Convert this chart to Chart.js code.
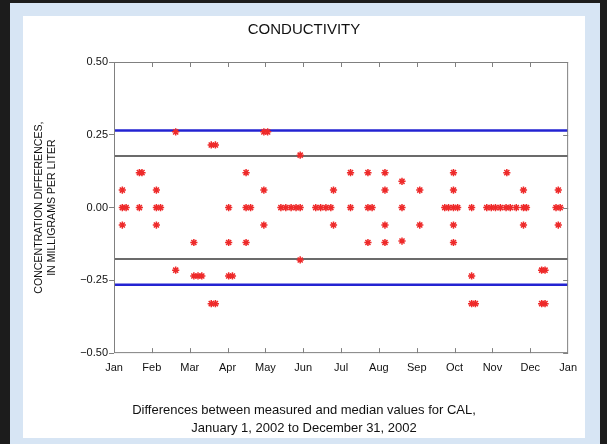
<!DOCTYPE html>
<html>
<head>
<meta charset="utf-8">
<script src="https://cdn.jsdelivr.net/npm/chart.js@4/dist/chart.umd.min.js"></script>
<style>
  html, body { margin: 0; padding: 0; }
  body {
    width: 607px; height: 444px; overflow: hidden;
    background: #d7e5f4;
    position: relative;
  }
  .frame-left  { position: absolute; left: 0; top: 0; width: 10px; height: 444px; background: #1c1c1c; }
  .frame-top   { position: absolute; left: 0; top: 0; width: 607px; height: 3px; background: #1c1c1c; }
  .frame-right { position: absolute; right: 0; top: 0; width: 7px; height: 444px; background: #1c1c1c; }
  .panel {
    position: absolute; left: 23px; top: 16px; width: 562px; height: 422px;
    background: #ffffff;
  }
</style>
</head>
<body>
<div class="frame-left"></div>
<div class="frame-top"></div>
<div class="frame-right"></div>
<div class="panel"><canvas id="condChart" width="562" height="422"></canvas></div>
<script>
// sample positions in months from Jan 1 (0 = Jan, 12 = next Jan)
const sampleMonth = [
  0.22, 0.22, 0.22, 0.32, 0.67, 0.67, 0.74,
  1.12, 1.12, 1.12, 1.23, 1.63, 1.63,
  2.11, 2.11, 2.22, 2.32, 2.57, 2.57, 2.68, 2.68,
  3.03, 3.03, 3.03, 3.13, 3.49, 3.49, 3.49, 3.61, 3.96, 3.96, 3.96,
  4.06, 4.41, 4.54, 4.68, 4.81, 4.92, 4.92, 4.92,
  5.33, 5.46, 5.60, 5.73, 5.80, 5.80,
  6.25, 6.25, 6.71, 6.71, 6.71, 6.82,
  7.16, 7.16, 7.16, 7.16, 7.61, 7.61, 7.61,
  8.08, 8.08, 8.74, 8.84, 8.97, 8.97, 8.97, 8.97, 8.97, 9.08,
  9.45, 9.45, 9.45, 9.55,
  9.85, 9.97, 10.08, 10.21, 10.36, 10.38, 10.47, 10.63,
  10.82, 10.82, 10.82, 10.90,
  11.30, 11.30, 11.39, 11.39, 11.68, 11.74, 11.74, 11.79
];
// measured minus median, mg/L
const sampleDiff = [
  0.06, 0, -0.06, 0, 0.12, 0, 0.12,
  0.06, 0, -0.06, 0, 0.26, -0.215,
  -0.12, -0.235, -0.235, -0.235, 0.215, -0.33, 0.215, -0.33,
  0, -0.12, -0.235, -0.235, 0.12, 0, -0.12, 0, 0.26, 0.06, -0.06,
  0.26, 0, 0, 0, 0, 0.18, 0, -0.18,
  0, 0, 0, 0, 0.06, -0.06,
  0.12, 0, 0.12, 0, -0.12, 0,
  0.12, 0.06, -0.06, -0.12, 0.09, 0, -0.115,
  0.06, -0.06, 0, 0, 0.12, 0.06, 0, -0.06, -0.12, 0,
  0, -0.235, -0.33, -0.33,
  0, 0, 0, 0, 0, 0.12, 0, 0,
  0.06, 0, -0.06, 0,
  -0.215, -0.33, -0.215, -0.33, 0, 0.06, -0.06, 0
];

const monthLabels = ["Jan", "Feb", "Mar", "Apr", "May", "Jun", "Jul",
                     "Aug", "Sep", "Oct", "Nov", "Dec", "Jan"];
const yTickValues = [-0.5, -0.25, 0, 0.25, 0.5];

// control limits
const outerLimit = 0.265;
const innerLimit = 0.177;

const points = sampleMonth.map((m, i) => ({ x: m, y: sampleDiff[i] }));

function limitLine(v, color, width) {
  return {
    type: "line",
    data: [{ x: 0, y: v }, { x: 12, y: v }],
    borderColor: color,
    borderWidth: width,
    pointRadius: 0,
    fill: false,
    order: 2
  };
}

const fmt = v => {
  const s = Math.abs(v).toFixed(2);
  return v < 0 ? "\u2212" + s : s;
};

const FONT = "'Liberation Sans', Arial, sans-serif";

// box around the plot plus the inward tick marks on top, bottom and right
const frameTicks = {
  id: "frameTicks",
  afterDatasetsDraw(chart) {
    const { ctx, chartArea: a, scales } = chart;
    ctx.save();
    ctx.strokeStyle = "#808080";
    ctx.lineWidth = 1;
    ctx.strokeRect(a.left + 0.5, a.top + 0.5, a.right - a.left - 1, a.bottom - a.top - 1);
    ctx.beginPath();
    for (let m = 1; m < 12; m++) {
      const px = Math.round(scales.x.getPixelForValue(m)) + 0.5;
      ctx.moveTo(px, a.bottom); ctx.lineTo(px, a.bottom - 5);
      ctx.moveTo(px, a.top);    ctx.lineTo(px, a.top + 5);
    }
    yTickValues.forEach(v => {
      const py = Math.round(scales.y.getPixelForValue(v)) + 0.5;
      ctx.moveTo(a.right, py); ctx.lineTo(a.right - 5, py);
    });
    ctx.stroke();
    ctx.restore();
  }
};

new Chart(document.getElementById("condChart"), {
  type: "scatter",
  data: {
    datasets: [
      {
        data: points,
        pointStyle: "star",
        pointRadius: 3.6,
        pointBorderWidth: 1.5,
        borderColor: "#ee2a2a",
        backgroundColor: "#ee2a2a",
        order: 1
      },
      limitLine(outerLimit, "#2323d2", 2.5),
      limitLine(-outerLimit, "#2323d2", 2.5),
      limitLine(innerLimit, "#3a3a3a", 1.5),
      limitLine(-innerLimit, "#3a3a3a", 1.5)
    ]
  },
  options: {
    responsive: false,
    animation: false,
    layout: { padding: 0 },
    plugins: {
      legend: { display: false },
      tooltip: { enabled: false },
      title: {
        display: true,
        text: "CONDUCTIVITY",
        color: "#111",
        font: { family: FONT, size: 15, weight: "normal" },
        padding: { top: 5, bottom: 23 }
      },
      subtitle: {
        display: true,
        position: "bottom",
        text: ["Differences between measured and median values for CAL,",
               "January 1, 2002 to December 31, 2002"],
        color: "#111",
        font: { family: FONT, size: 13, lineHeight: 1.38 },
        padding: { top: 18, bottom: 1 }
      }
    },
    scales: {
      x: {
        type: "linear",
        min: 0, max: 12,
        afterBuildTicks: s => { s.ticks = monthLabels.map((_, i) => ({ value: i })); },
        afterFit: s => { s.height = 30; },
        grid: { display: false, drawTicks: false },
        border: { display: false },
        ticks: {
          color: "#111",
          padding: 8,
          maxRotation: 0,
          autoSkip: false,
          font: { family: FONT, size: 11 },
          callback: v => monthLabels[v]
        }
      },
      y: {
        min: -0.5, max: 0.5,
        afterBuildTicks: s => { s.ticks = yTickValues.map(v => ({ value: v })); },
        afterFit: s => { s.width = 91; },
        grid: { drawOnChartArea: false, tickLength: 5, color: "#808080" },
        border: { display: false },
        ticks: {
          color: "#111",
          padding: 1,
          font: { family: FONT, size: 11 },
          callback: v => fmt(v)
        },
        title: {
          display: true,
          text: ["CONCENTRATION DIFFERENCES,", "IN MILLIGRAMS PER LITER"],
          color: "#111",
          font: { family: FONT, size: 10.6, lineHeight: 1.2 },
          padding: { top: 10, bottom: 0 }
        }
      },
      // empty strip on the right so the plot ends where the panel margin starts
      yRight: {
        position: "right",
        display: true,
        afterFit: s => { s.width = 15; },
        grid: { display: false },
        border: { display: false },
        ticks: { display: false }
      }
    }
  },
  plugins: [frameTicks]
});
</script>
</body>
</html>
